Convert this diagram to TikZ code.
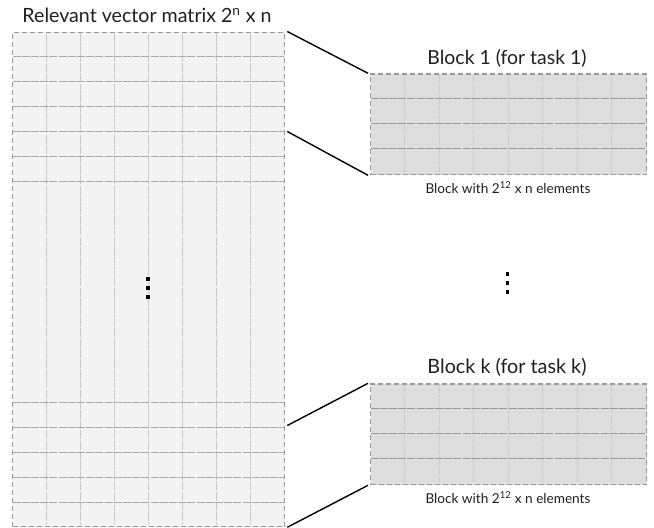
\documentclass[tikz,border=0pt]{standalone}
\usepackage{fontspec}
\setmainfont{Lato}
\usetikzlibrary{calc}
\definecolor{matfill}{HTML}{F3F3F3}
\definecolor{blkfill}{HTML}{DEDEDE}
\definecolor{edgegray}{HTML}{999999}
\definecolor{rowline}{HTML}{ABABAB}
\definecolor{colline}{HTML}{C8C8C8}
% set a label at a given printed width
\newcommand{\fitlabel}[2]{\resizebox{#1}{!}{#2}}
\tikzset{
  x=1pt, y=-1pt,
  matbox/.style={draw=edgegray, line width=1.3pt, dash pattern=on 5pt off 3pt,
    fill=#1, inner sep=0pt, anchor=north west},
  rowrule/.style={draw=rowline, line width=1pt, dash pattern=on 8pt off 1.2pt},
  colrule/.style={draw=colline, line width=1pt, dash pattern=on 9pt off 1.2pt},
  zoomline/.style={draw=black, line width=1.4pt},
  title/.style={font=\fontsize{17}{19}\selectfont, text=black!88, inner sep=0pt, anchor=base},
  caption/.style={font=\fontsize{11}{13}\selectfont, text=black!88, inner sep=0pt, anchor=base},
  dot/.style={fill=black}
}
\begin{document}
\begin{tikzpicture}
\useasboundingbox (0,0) rectangle (654,528);

% the full matrix
\node[matbox=matfill, minimum width=272pt, minimum height=494.5pt] (big) at (12,31.5) {};
\foreach \c in {1,...,7}
  \draw[colrule] (12+34*\c,32.5) -- (12+34*\c,525);
\foreach \r in {56.5,81.5,106.5,131.5,156.5,181.5,402.7,427.7,452.5,477.3,502.3}
  \draw[rowrule] (12.5,\r) -- (283.5,\r);
\node[matbox=matfill, fill=none, minimum width=272pt, minimum height=494.5pt] at (12,31.5) {};
\node[title] (bigtitle) at (147,22.7) {\fitlabel{249pt}{Relevant vector matrix 2\textsuperscript{n} x n}};

% block 1
\node[matbox=blkfill, minimum width=276pt, minimum height=100.7pt] (blk1) at (370,73.3) {};
\foreach \c in {1,...,7}
  \draw[colrule, draw=colline!90] (370+34.5*\c,74.3) -- (370+34.5*\c,173);
\foreach \r in {98.5,123.7,148.9}
  \draw[rowrule, draw=edgegray] (370.5,\r) -- (645.5,\r);
\node[matbox=blkfill, fill=none, minimum width=276pt, minimum height=100.7pt] at (370,73.3) {};
\node[title] (blk1title) at (507,64) {\fitlabel{159pt}{Block 1 (for task 1)}};
\node[caption] (blk1cap) at (508,193.5) {\fitlabel{165pt}{Block with 2\textsuperscript{12} x n elements}};

% block k
\node[matbox=blkfill, minimum width=276pt, minimum height=100.7pt] (blkk) at (370,383.3) {};
\foreach \c in {1,...,7}
  \draw[colrule, draw=colline!90] (370+34.5*\c,384.3) -- (370+34.5*\c,483);
\foreach \r in {408.5,433.7,458.9}
  \draw[rowrule, draw=edgegray] (370.5,\r) -- (645.5,\r);
\node[matbox=blkfill, fill=none, minimum width=276pt, minimum height=100.7pt] at (370,383.3) {};
\node[title] (blkktitle) at (507,373) {\fitlabel{159pt}{Block k (for task k)}};
\node[caption] (blkkcap) at (508,503.5) {\fitlabel{165pt}{Block with 2\textsuperscript{12} x n elements}};

% anchor points on the matrix edge
\coordinate (r1top) at ($(big.north east)+(2,0)$);
\coordinate (r1bot) at ($(big.north east)+(2,100)$);
\coordinate (rktop) at ($(big.north east)+(2,394)$);
\coordinate (rkbot) at ($(big.south east)+(2,0)$);
\coordinate (b1tl) at ($(blk1.north west)+(-2,0)$);
\coordinate (b1bl) at ($(blk1.south west)+(-2,0)$);
\coordinate (bktl) at ($(blkk.north west)+(-2,0)$);
\coordinate (bkbl) at ($(blkk.south west)+(-2,0)$);

% zoom connectors
\draw[zoomline] (r1top) -- (b1tl);
\draw[zoomline] (r1bot) -- (b1bl);
\draw[zoomline] (rktop) -- (bktl);
\draw[zoomline] (rkbot) -- (bkbl);

% ellipsis marks
\foreach \y in {279,288,297}
  \fill[dot] (147.7-1.8,\y-1.8) rectangle ++(3.6,3.6);
\foreach \y in {274,283,292}
  \fill[dot] (507.3-1.8,\y-1.8) rectangle ++(3.6,3.6);
\end{tikzpicture}
\end{document}
